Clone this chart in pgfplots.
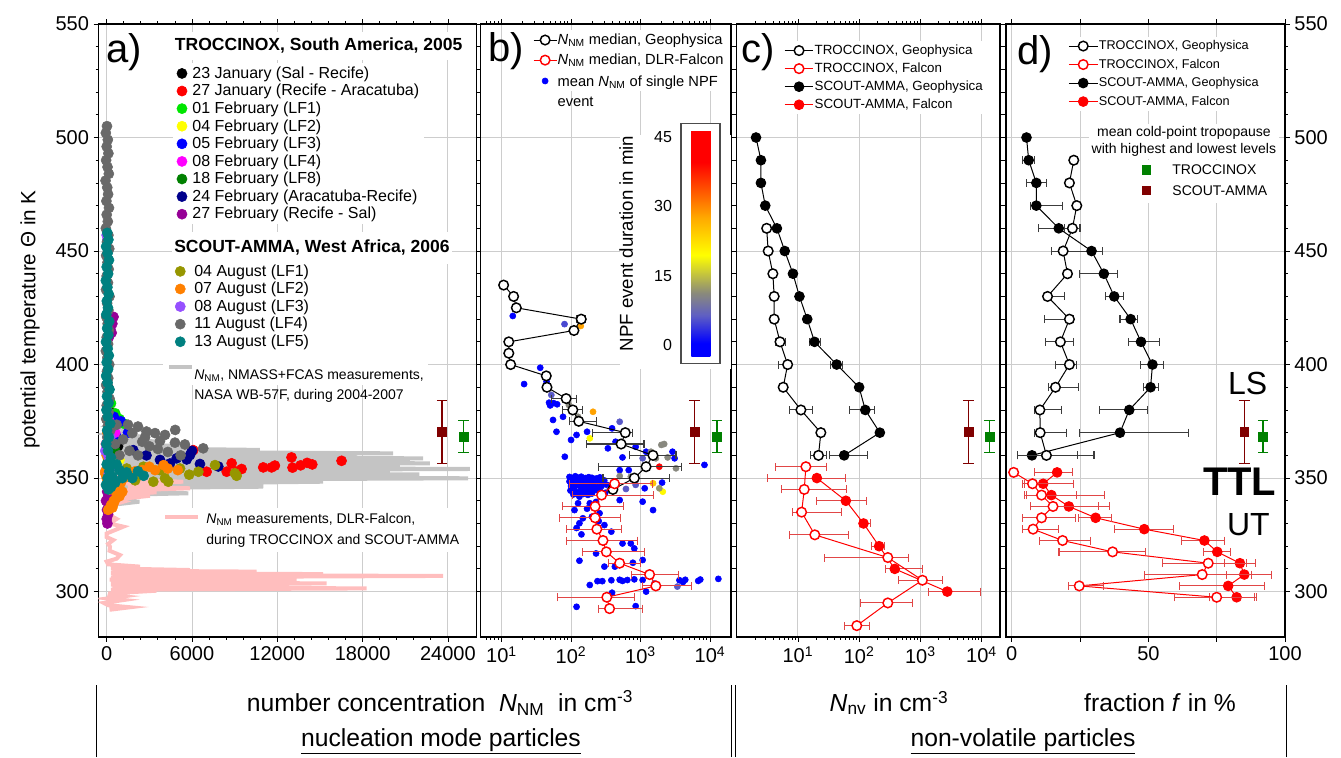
\documentclass[border=0pt]{standalone}
\usepackage{pgfplots}
\pgfplotsset{compat=1.18}
\usepackage{fontspec}
\setmainfont{Liberation Sans}

\definecolor{gridgray}{RGB}{205,205,205}
\definecolor{nmassgray}{RGB}{196,196,196}
\definecolor{falconpink}{RGB}{255,190,190}
\definecolor{scoutcol}{RGB}{128,0,0}
\definecolor{troccol}{RGB}{0,128,0}
\definecolor{errred}{RGB}{225,70,70}
\definecolor{errblack}{RGB}{60,60,60}
% flight colours
\definecolor{janA}{RGB}{0,0,0}
\definecolor{janB}{RGB}{255,0,0}
\definecolor{febA}{RGB}{0,230,0}
\definecolor{febB}{RGB}{255,255,0}
\definecolor{febC}{RGB}{0,0,255}
\definecolor{febD}{RGB}{255,0,255}
\definecolor{febE}{RGB}{0,128,0}
\definecolor{febF}{RGB}{0,0,140}
\definecolor{febG}{RGB}{150,0,150}
\definecolor{augA}{RGB}{150,150,0}
\definecolor{augB}{RGB}{255,128,0}
\definecolor{augC}{RGB}{150,80,255}
\definecolor{augD}{RGB}{105,105,105}
\definecolor{augE}{RGB}{0,128,128}

\newcommand{\NNM}{\textit{N}\textsubscript{NM}}

\pgfplotsset{
  panel/.style={
    scale only axis, height=459.75pt, anchor=south west,
    ymin=280, ymax=550,
    ytick={300,350,400,450,500,550},
    minor y tick num=4,
    grid=major,
    major grid style={draw=gridgray, line width=0.7pt},
    tick align=outside,
    major tick length=3.5pt, minor tick length=2pt,
    every tick/.style={black, line width=0.6pt},
    axis line style={line width=0.9pt},
    tick label style={font=\fontsize{15}{18}\selectfont},
    yticklabels={},
    clip mode=individual,
  },
  tgeo/.style={black, line width=0.75pt, mark=*, mark size=3.6pt,
    mark options={fill=white, draw=black, line width=1.1pt, solid}},
  tfal/.style={red, line width=0.75pt, mark=*, mark size=3.6pt,
    mark options={fill=white, draw=red, line width=1.1pt, solid}},
  sgeo/.style={black, line width=0.75pt, mark=*, mark size=3.6pt,
    mark options={fill=black, draw=black, solid}},
  sfal/.style={red, line width=0.75pt, mark=*, mark size=3.6pt,
    mark options={fill=red, draw=red, solid}},
  xerr/.style={error bars/x dir=both, error bars/x explicit,
    error bars/error bar style={line width=0.8pt, draw=#1},
    error bars/error mark options={rotate=90, mark size=3pt, line width=0.8pt, draw=#1}},
  cpt/.style={only marks, mark=square*, mark size=3.3pt, color=#1,
    error bars/y dir=both, error bars/y explicit,
    error bars/error bar style={line width=1pt},
    error bars/error mark options={rotate=90, mark size=4pt, line width=1pt}},
  flight/.style={only marks, mark=*, mark size=3.8pt, color=#1,
    mark options={fill=#1, draw=#1}},
  flightlegend/.style={legend style={draw=none, fill=white,
    font=\fontsize{12}{14}\selectfont, nodes={inner sep=0.5pt}, row sep=2pt},
    legend cell align=left},
}

\begin{document}
\begin{tikzpicture}
\useasboundingbox (0,0) rectangle (1005.75pt,567.75pt);

%% ---------------- a) nucleation mode particles, linear scale
\begin{axis}[panel, at={(73.725pt,90pt)}, width=283.8pt,
  xmin=-590, xmax=26025, scaled x ticks=false,
  xtick={0,6000,12000,18000,24000},
  xticklabels={0,6000,12000,18000,24000},
  minor x tick num=4,
  yticklabels={300,350,400,450,500,550},
  flightlegend,
  legend style={at={(0.1965,0.9363)}, anchor=north west, column sep=3.5pt},
]
% WB-57F profile
\addplot[nmassgray, line width=3pt, forget plot] coordinates {
(100,338)(2300,339.6)(150,340.5)(2300,341.8)(200,342.5)(5740,343.3)(250,344)
(4680,344.7)(200,345.5)(11010,346.2)(300,347.3)(15230,348.4)(300,349.2)
(25420,349.9)(400,350.8)(22000,351.6)(300,352.2)(19920,352.8)(500,353.4)
(25540,354)(400,354.7)(20620,355.3)(500,355.9)(22730,356.5)(400,357.1)
(21320,357.7)(500,358.2)(22260,358.7)(500,359.2)(17575,359.7)(400,360.3)
(20150,360.9)(600,361.6)(10780,362.4)(500,363.2)(5860,364)(300,365)
(4000,366)(300,367)(3000,368)(200,369.5)(2000,371)(100,373)(1000,375)
(100,378)(500,382)(100,386)(300,392)(50,398)};
% Falcon profile
\addplot[falconpink, line width=3pt, forget plot] coordinates {
(200,292)(1640,293.1)(100,294)(-200,295)(1200,296.3)(100,297)(1170,297.9)
(200,298.5)(230,299.2)(3510,300.4)(300,300.9)(18280,301.4)(400,302)
(8200,302.6)(300,303.1)(15470,303.6)(300,304.2)(13360,304.8)(200,305.3)
(9370,305.8)(300,306.3)(23660,306.9)(400,307.3)(15230,307.7)(300,308.2)
(10540,308.8)(400,309.2)(5860,309.5)(300,310.2)(2340,311)(100,312)
(0,313.2)(700,314.5)(935,316.1)(200,318)(230,319.8)(100,321)(466,322.7)
(0,324)(0,325.6)(1170,328.6)(200,330)(700,332)(100,334)(500,336)(300,338)
(1170,339.6)(500,340.5)(3040,342.2)(800,343)(3510,343.7)(1000,344.5)
(5860,345.5)(1500,346.3)(4450,347)(1000,347.8)(5387,348.4)(500,349.3)
(2000,350.5)(300,352)(200,355)};

\addplot[flight=janA] coordinates {(200,372)(400,368)(800,364)(150,380)(100,390)(500,360)};
\addlegendentry{23 January (Sal - Recife)}
\addplot[flight=janB] coordinates {(6090,362.3)(7030,352.8)(8440,352.8)(8790,356.5)
(9140,352.8)(9490,354)(11010,354.7)(11600,354.7)(11830,355.5)(13000,359.1)
(13070,354.6)(13640,355.6)(14100,356.7)(14460,356)(16520,357.6)};
\addlegendentry{27 January (Recife - Aracatuba)}
\addplot[flight=febA] coordinates {(200,378)(600,378.5)(900,376)(1200,374)(300,383)(100,370)};
\addlegendentry{01 February (LF1)}
\addplot[flight=febB] coordinates {(500,360)(900,358)(300,365)};
\addlegendentry{04 February (LF2)}
\addplot[flight=febC] coordinates {(500,377)(1000,375)(300,372)(1500,370)(700,368)};
\addlegendentry{05 February (LF3)}
\addplot[flight=febD] coordinates {(400,372)(600,370)(200,375)};
\addlegendentry{08 February (LF4)}
\addplot[flight=febE] coordinates {(300,360)(600,362)(100,358)};
\addlegendentry{18 February (LF8)}
\addplot[flight=febF] coordinates {(1870,362.3)(5860,360.1)(5630,358.2)(6560,356.2)
(7850,355.1)(3750,358)(4920,358.7)(4450,356.4)(2800,360)(6000,362)};
\addlegendentry{24 February (Aracatuba-Recife)}
\addplot[flight=febG] coordinates {(50,330)(0,332)(100,334)(20,336)(150,338)(-50,340)
(120,342)(30,344)(80,346)(300,420)(400,418)(250,416)(350,414)(150,412)(480,421)};
\addlegendentry{27 February (Recife - Sal)}
\addplot[forget plot, flight=augA] coordinates {(3280,348.4)(4330,348.4)(4100,349.9)(5160,354.2)
(6450,352.8)(7620,355.7)(9020,352.1)(9140,351)(3750,353.5)(2580,355)(1410,354.2)
(5800,351.5)(2000,349)};
\addplot[forget plot, flight=augB] coordinates {(0,376)(0,350)(300,348)(700,343)(800,345)(1000,348)
(2500,353.5)(3400,353.5)(4300,354.2)(5000,353.5)(3000,355)(2000,353)(4000,355.7)
(650,341)(500,339)(400,337)(200,345)(1500,352)(1200,350)(600,346)(-100,352)
(100,336)(300,338)(500,340)(900,342)(1100,344)(700,347)(200,349)(0,351)
(-100,353)(100,356)(0,360)(-50,365)(50,370)};
\addplot[forget plot, flight=augC] coordinates {(0,457)(50,455)(100,360)(200,358)(-100,362)(300,355)
(150,352)(-50,365)(250,368)};
\addplot[forget plot, flight=augD] coordinates {(20,505)(-60,502)(80,499)(0,496)(120,493)(-40,490)
(60,487)(150,484)(-80,481)(40,478)(100,475)(-20,472)(160,469)(0,466)(80,463)
(-60,460)(120,457)(20,454)(180,451)(-40,448)(60,445)(140,442)(0,439)(90,436)
(-50,433)(200,430)(30,427)(120,424)(-30,421)(70,418)(160,415)(0,412)(100,409)
(-60,406)(50,403)(180,400)(20,397)(110,394)(-40,391)(60,388)(200,385)(0,382)
(130,379)(-30,376)(80,373)(250,371)(40,368)(150,365)
(700,373.5)(1500,373.5)(2200,372.7)(2800,370.5)(3400,369.8)(4100,369)(4820,371.2)
(3750,366.3)(4800,365.6)(5500,364.8)(6790,363.1)(1800,369.8)(1150,367)(2500,366)
(3000,364)(1600,362)(2200,360)(4300,361.5)(5200,360)(900,360)(600,365)(3600,362.8)
(2700,368)};
\addplot[forget plot, flight=augE] coordinates {(40,458)(120,455)(-40,452)(60,449)(160,446)(0,443)
(100,440)(-60,437)(50,434)(140,431)(10,428)(90,425)(-30,422)(180,419)(30,416)
(120,413)(-50,410)(70,407)(150,404)(0,401)(100,398)(-40,395)(60,392)(200,389)
(20,386)(130,383)(-20,380)(80,377)(250,374)(30,371)(150,368)(-30,365)(90,362)
(300,359)(0,356)(180,353)(60,350)(-50,347)(120,345)
(400,350.6)(1100,350)(1800,350)(200,355)(900,353.5)(2600,351)(1400,352.5)
(600,348)(300,346)(2200,353)(700,356)};
% cold-point tropopause
\addplot[forget plot, cpt=scoutcol] coordinates {(23590,370.4) += (0,13.8) -= (0,13.9)};
\addplot[forget plot, cpt=troccol] coordinates {(25090,368.2) += (0,7.1) -= (0,6.8)};
\node[anchor=base west, fill=white, inner sep=2pt, font=\fontsize{10.5}{13}\selectfont]
  at (axis cs:3900,330.2)
  {{\color{falconpink}\rule[0.55ex]{25pt}{3pt}}\hspace{6pt}\begin{tabular}[t]{@{}l@{}}\NNM\ measurements, DLR-Falcon,\\[3pt]during TROCCINOX and SCOUT-AMMA\end{tabular}};
\end{axis}

% legend of the SCOUT-AMMA flights and the WB-57F profile
\begin{axis}[scale only axis, at={(73.725pt,90pt)}, anchor=south west,
  width=283.8pt, height=459.75pt, hide axis,
  xmin=0, xmax=1, ymin=0, ymax=1,
  flightlegend,
  legend style={at={(0.170,0.6134)}, anchor=north west},
]
\addlegendimage{flight=augA}\addlegendentry{04 August (LF1)}
\addlegendimage{flight=augB}\addlegendentry{07 August (LF2)}
\addlegendimage{flight=augC}\addlegendentry{08 August (LF3)}
\addlegendimage{flight=augD}\addlegendentry{11 August (LF4)}
\addlegendimage{flight=augE}\addlegendentry{13 August (LF5)}
\addlegendimage{nmassgray, line width=3pt}
\addlegendentry{\fontsize{10.5}{13}\selectfont\rule{0pt}{20.4pt}\begin{tabular}[t]{@{}l@{}}\NNM, NMASS+FCAS measurements,\\[2pt]NASA WB-57F, during 2004-2007\end{tabular}}
\end{axis}

% campaign headings of the flight legend
\node[anchor=west, fill=white, inner xsep=2pt, inner ysep=5pt,
  font=\fontsize{13.15}{15}\selectfont\bfseries] at (129pt,533.25pt)
  {TROCCINOX, South America, 2005};
\node[anchor=west, fill=white, inner xsep=2pt, inner ysep=6pt,
  font=\fontsize{13.15}{15}\selectfont\bfseries] at (128.5pt,381.75pt)
  {SCOUT-AMMA, West Africa, 2006};

%% ---------------- b) nucleation mode particles, log scale
\begin{axis}[panel, at={(360.5pt,90pt)}, width=187.7pt,
  xmode=log, xmin=5, xmax=20000,
  xtick={10,100,1000,10000},
  xticklabels={10\textsuperscript{1},10\textsuperscript{2},10\textsuperscript{3},10\textsuperscript{4}},
  minor xtick={6,7,8,9,20,30,40,50,60,70,80,90,200,300,400,500,600,700,800,900,2000,3000,4000,5000,6000,7000,8000,9000},
  colormap={npf}{rgb255(0pt)=(0,0,255); rgb255(3pt)=(0,0,255); rgb255(9pt)=(95,95,195);
    rgb255(14pt)=(140,140,120); rgb255(22pt)=(255,255,0); rgb255(30pt)=(255,170,0);
    rgb255(37pt)=(255,70,0); rgb255(42pt)=(255,0,0); rgb255(49pt)=(255,0,0)},
  point meta min=-2.6, point meta max=46.5,
  colorbar left,
  colorbar style={
    at={(parent axis.north west)}, anchor=north west,
    xshift=166.5pt, yshift=-79.5pt,
    scale only axis, width=25.6pt, height=170.25pt,
    ytick={0,15,30,45}, yticklabels={0,15,30,45},
    minor y tick num=0,
    yticklabel pos=left,
    major tick length=0pt,
    axis line style={draw=none},
    yticklabel style={font=\fontsize{12}{14}\selectfont, xshift=-11pt},
    ylabel={NPF event duration in min},
    ylabel shift=9pt,
    ylabel style={font=\fontsize{14}{16}\selectfont},
  },
  legend style={at={(0.193,0.99)}, anchor=north west, draw=none, fill=white,
    font=\fontsize{11}{13}\selectfont, nodes={inner sep=0.5pt}, row sep=4.6pt},
  legend cell align=left,
]
\fill[white] (axis cs:498,398) rectangle (axis cs:20000,501);
\draw[black!70, line width=1pt, fill=white] (axis cs:3823,506.3) rectangle (axis cs:13870,400.5);
\addplot[forget plot, scatter, only marks, mark=*, mark size=2.3pt, point meta=explicit,
  scatter/use mapped color={draw=mapped color, fill=mapped color}]
  table[x=x, y=y, meta=d] {
x y d
10.7 435 0
14.5 421.4 0
80.5 417.8 5
138 417 28
13.5 399.8 0
36 398.6 0
21.1 391.4 0
44.4 392.5 0
48.2 383.2 0
52 386.6 6
50 382 0
56 383 0
63 382.5 0
93 382.2 11
126 377 11
55 375.6 0
61.7 370.4 0
76.6 377 0
100 366.8 0
81.3 359.4 0
120 369 0
170 370.4 0
186 367.5 20
207 379.2 28
339 363.1 0
389 371.9 0
501 374.8 6
437 366 0
501 365.3 11
501 353.5 0
550 359.1 0
676 353.5 0
851 363.8 0
1072 358.7 6
1202 361.6 0
1413 361.6 11
1660 358.7 11
1862 355 45
1995 364.6 11
2188 365 11
2455 359.1 11
2884 361.6 0
3090 358.7 0
3236 354.3 11
8318 355.8 0
2042 348 0
2089 344 20
1862 345.5 12
1514 347.7 25
851 347 6
617 345.2 6
1148 345.5 0
724 350.6 11
501 350.9 11
95 350.5 0
105 350 0
115 350.8 0
125 350.2 0
140 350.6 0
160 350 0
180 350.4 0
200 350.1 0
230 349.8 0
260 350.3 0
95 348.5 0
110 348 0
120 348.8 0
135 348.2 0
150 348.7 0
170 348 0
190 348.5 0
215 348.2 0
245 348.6 0
280 348 0
100 346.5 0
112 346 0
128 346.8 0
145 346.2 0
165 346.6 0
185 346 0
210 346.4 0
240 346.1 0
275 346.5 0
98 344.5 0
118 344 0
138 344.6 0
158 344.2 0
178 344.8 0
205 344.3 0
235 344.7 0
265 344 0
108 342.8 0
130 342.5 0
150 343 0
175 342.6 0
200 343.2 0
300 349 0
330 347 0
360 345 6
310 343.5 0
132 341.8 0
186 338.9 0
112 335.9 0
148 332.3 0
302 329.3 0
132 330.1 0
380 326.4 0
141 325.2 0
257 334.5 0
126 338.9 0
501 340.3 0
1072 339.6 0
1514 335.9 0
229 339.5 0
170 336.5 0
200 333 0
120 328 0
250 331 0
550 321.2 0
724 321.2 0
813 319 0
229 316.8 0
132 313.6 0
302 311 0
427 311 0
776 312.7 0
1072 313.9 0
186 302.9 0
240 304.6 0
282 304.6 0
380 305 0
501 305.2 0
550 304.7 0
646 305.1 0
813 305.4 0
1072 305.1 0
3631 305 0
4074 304.2 0
4400 305.2 0
6761 304.7 0
7244 305.3 0
13180 305.6 0
1202 300 0
389 299.5 0
120 293.3 0
851 293.6 0
1585 303.6 6
3388 302.2 6
};
\addplot[forget plot, tgeo, xerr=errblack] coordinates {
(10.7,435) (14.9,430) (16.3,425) (140,420) += (22,0) -= (22,0) (110,415)
(12.7,410) (12.7,405) (13.5,400) (44,395) (45,390)
(85,385) += (35,0) -= (33,0) (106,380) += (40,0) -= (30,0)
(129,375) += (100,0) -= (33.5,0) (603,370) += (173,0) -= (399,0)
(525,365) += (597,0) -= (359,0) (1510,360) += (1726,0) -= (818,0)
(1200,355) += (2690,0) -= (949,0) (815,350) += (1815,0) -= (527,0) (400,345)};
\addplot[forget plot, tfal, xerr=errred] coordinates {
(423,347.5) += (1057,0) -= (328,0) (275,342.5) += (1239,0) -= (170,0)
(222,337.5) += (353,0) -= (146,0) (222,332.5) += (291,0) -= (154,0)
(235,327.5) += (290,0) -= (148,0) (288,322.5) += (624,0) -= (203,0)
(322,317.5) += (826,0) -= (174,0) (500,312.5) += (500,0) -= (150,0)
(1350,307.5) += (2198,0) -= (609,0) (1660,302.5) += (3835,0) -= (588,0)
(327,297.5) += (486,0) -= (264,0) (358,292.5) += (714,0) -= (113,0)};
\addplot[forget plot, cpt=scoutcol] coordinates {(5980,370.4) += (0,13.8) -= (0,13.9)};
\addplot[forget plot, cpt=troccol] coordinates {(12600,368.2) += (0,7.1) -= (0,6.8)};
\addlegendimage{tgeo}
\addlegendentry{\NNM\ median, Geophysica}
\addlegendimage{tfal}
\addlegendentry{\NNM\ median, DLR-Falcon}
\addlegendimage{only marks, mark=*, mark size=2.3pt, blue}
\addlegendentry{\begin{tabular}[t]{@{}l@{}}mean \NNM\ of single NPF\\[2pt]event\end{tabular}}
\end{axis}

%% ---------------- c) non-volatile particles
\begin{axis}[panel, at={(552.5pt,90pt)}, width=197.5pt,
  xmode=log, xmin=1, xmax=20000,
  xtick={10,100,1000,10000},
  xticklabels={10\textsuperscript{1},10\textsuperscript{2},10\textsuperscript{3},10\textsuperscript{4}},
  minor xtick={2,3,4,5,6,7,8,9,20,30,40,50,60,70,80,90,200,300,400,500,600,700,800,900,2000,3000,4000,5000,6000,7000,8000,9000},
  legend style={at={(0.164,0.972)}, anchor=north west, draw=none, fill=white,
    font=\fontsize{10}{12}\selectfont, nodes={inner sep=0.5pt}, row sep=3.8pt},
  legend cell align=left,
  legend image code/.code={\draw[mark repeat=2, mark phase=2, #1] plot coordinates {(0cm,0cm) (0.38cm,0cm) (0.76cm,0cm)};},
]
\addplot[forget plot, sgeo, xerr=errblack] coordinates {
(2.07,500) (2.49,490) (2.49,480) (2.93,470) (4.54,460) (6.1,450) (8.3,440)
(10.6,430) (14.2,420) (18.7,410) += (4.4,0) -= (3.2,0)
(43,400) += (10.7,0) -= (9.4,0) (100,390) (126,380) += (50,0) -= (55.5,0)
(218,370) (57,360) += (80,0) -= (24.1,0)};
\addplot[forget plot, tgeo, xerr=errblack] coordinates {
(3.09,460) (3.27,450) (3.9,440) (4.1,430) (4.1,420)
(5.1,410) += (1.27,0) -= (0.83,0) (6.8,400) += (0.7,0) -= (1.96,0) (5.75,390)
(11.2,380) += (6.2,0) -= (3.9,0) (23.7,370) (21.7,360) += (8,0) -= (5.8,0)};
\addplot[forget plot, sfal, xerr=errred] coordinates {
(20.4,350) += (38.6,0) -= (17.2,0) (60.7,340) += (71.3,0) -= (40.3,0)
(118,330) += (37,0) -= (18,0) (212,320) += (51,0) -= (50,0)
(382,310) += (698,0) -= (110,0) (2750,300) += (6800,0) -= (1400,0)};
\addplot[forget plot, tfal, xerr=errred] coordinates {
(13.5,355) += (16.2,0) -= (9.2,0) (12.7,345) += (50.3,0) -= (7.3,0)
(11.5,335) += (40.5,0) -= (3.3,0) (18.9,325) += (47.1,0) -= (11.6,0)
(294,315) += (337,0) -= (266.5,0) (1080,305) += (1210,0) -= (635,0)
(294,295) += (446,0) -= (190,0) (91.6,285) += (54.4,0) -= (34,0)};
\addplot[forget plot, cpt=scoutcol] coordinates {(6100,370.4) += (0,13.8) -= (0,13.9)};
\addplot[forget plot, cpt=troccol] coordinates {(13500,368.2) += (0,7.1) -= (0,6.8)};
\addlegendimage{tgeo}\addlegendentry{TROCCINOX, Geophysica}
\addlegendimage{tfal}\addlegendentry{TROCCINOX, Falcon}
\addlegendimage{sgeo}\addlegendentry{SCOUT-AMMA, Geophysica}
\addlegendimage{sfal}\addlegendentry{SCOUT-AMMA, Falcon}
\end{axis}

%% ---------------- d) non-volatile fraction
\begin{axis}[panel, at={(754.5pt,90pt)}, width=209.25pt,
  xmin=-2.1, xmax=100,
  xtick={0,25,50,75,100}, xticklabels={0,,50,,100},
  yticklabel pos=right,
  yticklabels={300,350,400,450,500,550},
  legend style={at={(0.208,0.979)}, anchor=north west, draw=none, fill=white,
    font=\fontsize{9.5}{11.5}\selectfont, nodes={inner sep=0.5pt}, row sep=4.5pt},
  legend cell align=left,
  legend image code/.code={\draw[mark repeat=2, mark phase=2, #1] plot coordinates {(0cm,0cm) (0.38cm,0cm) (0.76cm,0cm)};},
]
\addplot[forget plot, sgeo, xerr=errblack] coordinates {
(5.4,500) (6.2,490) += (2.2,0) -= (2.2,0) (9.0,480) += (3.7,0) -= (3.7,0)
(9.0,470) += (9.6,0) -= (2,0) (17.2,460) += (7.7,0) -= (7.3,0)
(29.2,450) += (3.9,0) -= (14.7,0) (33.7,440) += (4.9,0) -= (8.8,0)
(37.5,430) += (3.3,0) -= (3.2,0) (43.5,420) += (2.4,0) -= (3.9,0)
(47.3,410) += (6.7,0) -= (4.7,0) (51.5,400) += (3.9,0) -= (4.4,0)
(50.8,390) += (2.8,0) -= (2.7,0) (43.0,380) += (6.7,0) -= (10.8,0)
(39.6,370) += (25,0) -= (14.7,0) (7.4,360) += (16.7,0) -= (5.3,0)};
\addplot[forget plot, tgeo, xerr=errblack] coordinates {
(22.7,490) (21.1,480) (23.8,470) (22.2,460) += (3,0) -= (3,0) (18.8,450) (20.4,440)
(13.1,430) += (6.3,0) -= (1,0) (21.1,420) += (1.6,0) -= (9,0)
(17.8,410) += (4.9,0) -= (5.5,0) (21.1,400) += (2.6,0) -= (5,0)
(16.0,390) += (8.5,0) -= (2.7,0) (10.3,380) += (7.9,0) -= (1.9,0)
(10.4,370) += (9.6,0) -= (2,0) (12.7,360) += (17.4,0) -= (10.6,0)};
\addplot[forget plot, sfal, xerr=errred] coordinates {
(16.6,352.5) += (5.6,0) -= (8.2,0) (11.5,347.5) += (11.2,0) -= (6.7,0)
(14.5,342.5) += (9.2,0) -= (9.1,0) (20.9,337.5) += (11,0) -= (14.1,0)
(30.7,332.5) += (5.8,0) -= (6.2,0) (48.5,327.5) += (10.6,0) -= (10.8,0)
(70.5,322.5) += (7.3,0) -= (8.3,0) (75.2,317.5) += (4.7,0) -= (5.1,0)
(83.5,312.5) += (5.8,0) -= (5.8,0) (85.1,307.5) += (9.8,0) -= (6.5,0)
(79.2,302.5) += (13.2,0) -= (17.7,0) (82.3,297.5) += (6.5,0) -= (10,0)};
\addplot[forget plot, tfal, xerr=errred] coordinates {
(0.7,352.5) (7.6,347.5) += (15.1,0) -= (3.7,0) (10.9,342.5) += (23.2,0) -= (6.1,0)
(15.1,337.5) += (20.8,0) -= (8.3,0) (10.9,332.5) += (12.4,0) -= (7,0)
(7.8,327.5) += (9.4,0) -= (3.9,0) (18.6,322.5) += (10.2,0) -= (8.3,0)
(36.9,317.5) += (12.1,0) -= (19.6,0) (71.9,312.5) += (14.1,0) -= (16.7,0)
(69.7,307.5) += (18.1,0) -= (21,0) (24.7,302.5) += (9,0) -= (4.1,0)
(75.0,297.5) += (14.6,0) -= (15.3,0)};
\addplot[forget plot, cpt=scoutcol] coordinates {(85.1,370.4) += (0,13.8) -= (0,13.9)};
\addplot[forget plot, cpt=troccol] coordinates {(92,368.2) += (0,7.1) -= (0,6.8)};
\addlegendimage{tgeo}\addlegendentry{TROCCINOX, Geophysica}
\addlegendimage{tfal}\addlegendentry{TROCCINOX, Falcon}
\addlegendimage{sgeo}\addlegendentry{SCOUT-AMMA, Geophysica}
\addlegendimage{sfal}\addlegendentry{SCOUT-AMMA, Falcon}
\node[anchor=north, fill=white, inner sep=2pt, align=center,
  font=\fontsize{10.5}{12.5}\selectfont] at (axis cs:63,506)
  {mean cold-point tropopause\\with highest and lowest levels};
\node[anchor=west, fill=white, inner sep=2pt, font=\fontsize{10.5}{12.5}\selectfont]
  at (axis cs:46.5,480.5)
  {\begin{tabular}{@{}c@{\hspace{16pt}}l@{}}
   {\color{troccol}\rule{7pt}{7pt}} & TROCCINOX\\[3pt]
   {\color{scoutcol}\rule{7pt}{7pt}} & SCOUT-AMMA
   \end{tabular}};
\node[font=\fontsize{24}{28}\selectfont] at (axis cs:86.3,391.5) {LS};
\node[font=\fontsize{30}{34}\selectfont\bfseries] at (axis cs:83.4,348.4) {TTL};
\node[font=\fontsize{24}{28}\selectfont] at (axis cs:86.6,329.4) {UT};
\end{axis}

%% panel letters
\node[font=\fontsize{30}{34}\selectfont] at (93pt,528.75pt) {a)};
\node[font=\fontsize{30}{34}\selectfont] at (379.9pt,529.1pt) {b)};
\node[font=\fontsize{30}{34}\selectfont] at (568.5pt,528.75pt) {c)};
\node[font=\fontsize{30}{34}\selectfont] at (776.6pt,527.25pt) {d)};

%% vertical axis title
\node[rotate=90, font=\fontsize{15.5}{18}\selectfont] at (22.5pt,328.1pt)
  {potential temperature Θ in K};

%% horizontal axis titles and group captions
\node[font=\fontsize{18.5}{21}\selectfont] at (330pt,40.5pt)
  {number concentration \ \NNM\ \ in cm\textsuperscript{-3}};
\node[font=\fontsize{18.5}{21}\selectfont] at (330.75pt,12pt) {\underline{nucleation mode particles}};
\node[font=\fontsize{18.5}{21}\selectfont] at (666.75pt,40.5pt)
  {\textit{N}\textsubscript{nv} in cm\textsuperscript{-3}};
\node[font=\fontsize{18.5}{21}\selectfont] at (870pt,40.5pt) {fraction \textit{f} in \%};
\node[font=\fontsize{18.5}{21}\selectfont] at (767.25pt,12pt) {\underline{non-volatile particles}};
\draw[line width=0.8pt] (72.5pt,0) -- (72.5pt,54pt);
\draw[line width=0.8pt] (548.8pt,0) -- (548.8pt,54pt);
\draw[line width=0.8pt] (551.5pt,0) -- (551.5pt,54pt);
\draw[line width=0.8pt] (965pt,0) -- (965pt,54pt);
\end{tikzpicture}
\end{document}
